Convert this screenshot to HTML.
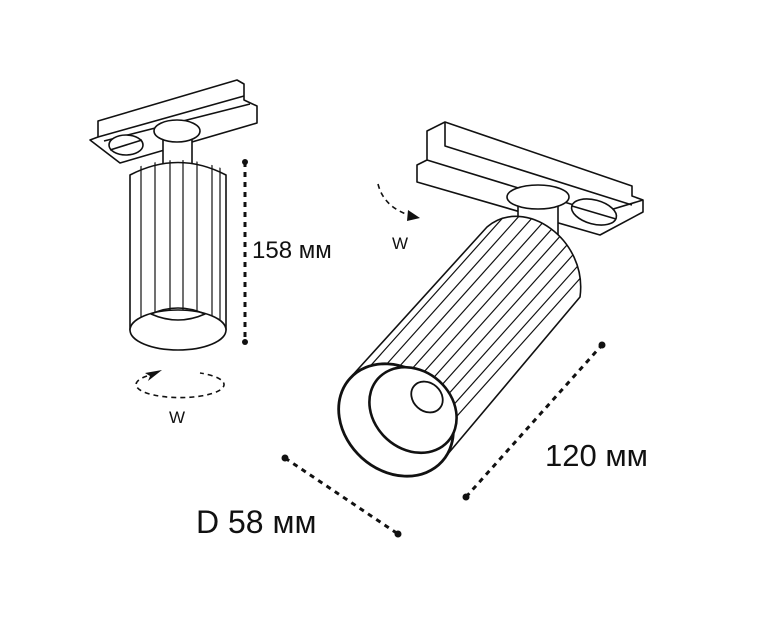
<!DOCTYPE html>
<html><head><meta charset="utf-8"><style>
html,body{margin:0;padding:0;background:#fff}
svg{display:block}
text{font-family:"Liberation Sans","DejaVu Sans",sans-serif;fill:#111}
</style></head><body>
<svg width="768" height="620" viewBox="0 0 768 620" xmlns="http://www.w3.org/2000/svg">
<defs>
<clipPath id="bodyclip"><path d="M350,378 L487,227 C525,195 588,240 580,297 L447,455 Z"/></clipPath>
<clipPath id="lclip"><path d="M130,170 Q178,150 226,170 L226,330 L130,330 Z"/></clipPath>
</defs>
<g fill="#fff" stroke="#111" stroke-width="1.6" stroke-linejoin="round">
<!-- left track adapter -->
<polygon points="98,121 237,80 244,84 244,100 257,106 257,123 120,163 90,140 98,137"/>
<polyline fill="none" points="98,137 244,96"/>
<polyline fill="none" points="104,141 250,104"/>
<ellipse cx="126" cy="145" rx="17" ry="10"/>
<line x1="110" y1="150" x2="142" y2="140"/>
<!-- left body -->
<rect x="163" y="134" width="29" height="32"/>
<ellipse cx="177" cy="131" rx="23" ry="11"/>
<path d="M130,175 Q178,150 226,175 L226,330 L130,330 Z"/>
<g clip-path="url(#lclip)" fill="none" stroke-width="1.2">
<line x1="141" y1="150" x2="141" y2="330"/><line x1="155" y1="150" x2="155" y2="330"/>
<line x1="170" y1="150" x2="170" y2="330"/><line x1="183" y1="150" x2="183" y2="330"/>
<line x1="197" y1="150" x2="197" y2="330"/><line x1="212" y1="150" x2="212" y2="330"/>
<line x1="220" y1="150" x2="220" y2="330"/>
</g>
<ellipse cx="178" cy="330" rx="48" ry="20"/>
<path d="M151,314 Q178,302 205,314 Q178,326 151,314 Z" fill="none"/>

<!-- right track adapter -->
<polygon points="445,122 632,186 632,196 643,200 643,212 600,235 417,182 417,165 427,160 427,131"/>
<polyline fill="none" points="427,160 600,213 643,200"/>
<polyline fill="none" points="445,122 445,146 632,205"/>
<ellipse cx="594" cy="212" rx="23" ry="12" transform="rotate(15 594 212)"/>
<line x1="572" y1="206" x2="616" y2="219"/>
<rect x="518" y="195" width="40" height="55"/>
<ellipse cx="538" cy="197" rx="31" ry="12"/>
<!-- right body -->
<path d="M350,378 L487,227 C525,195 588,240 580,297 L447,455 Z"/>
<g clip-path="url(#bodyclip)" fill="none" stroke-width="1.2">
<g transform="rotate(41.8)">
<line x1="520" y1="-260" x2="520" y2="80"/><line x1="531" y1="-260" x2="531" y2="80"/>
<line x1="542" y1="-260" x2="542" y2="80"/><line x1="553" y1="-260" x2="553" y2="80"/>
<line x1="564" y1="-260" x2="564" y2="80"/><line x1="575" y1="-260" x2="575" y2="80"/>
<line x1="586" y1="-260" x2="586" y2="80"/><line x1="597" y1="-260" x2="597" y2="80"/>
<line x1="608" y1="-260" x2="608" y2="80"/><line x1="618" y1="-260" x2="618" y2="80"/>
</g></g>
<ellipse cx="396" cy="420" rx="62" ry="51" transform="rotate(42 396 420)" stroke-width="2.8"/>
<ellipse cx="413" cy="410" rx="47" ry="39" transform="rotate(42 413 410)" stroke-width="2.6"/>
<ellipse cx="427" cy="397" rx="17" ry="14" transform="rotate(42 427 397)" stroke-width="1.8"/>
</g>

<!-- dimension lines -->
<g stroke="#111" stroke-width="3" stroke-dasharray="5,5" fill="none">
<line x1="245" y1="162" x2="245" y2="342"/>
<line x1="466" y1="497" x2="602" y2="345"/>
<line x1="285" y1="458" x2="398" y2="534"/>
</g>
<g fill="#111">
<circle cx="245" cy="162" r="3"/><circle cx="245" cy="342" r="3"/>
<circle cx="466" cy="497" r="3.5"/><circle cx="602" cy="345" r="3.5"/>
<circle cx="285" cy="458" r="3.5"/><circle cx="398" cy="534" r="3.5"/>
</g>
<!-- rotation arrows -->
<g stroke="#111" stroke-width="1.6" stroke-dasharray="5,4" fill="none">
<path d="M147,376 A44,13 0 1 0 200,373"/>
<path d="M378,184 Q384,208 412,216"/>
</g>
<polygon points="162,370 145,373 150,376 148,381" fill="#111"/>
<polygon points="408,210 420,218 407,221" fill="#111"/>

<text x="252" y="258" font-size="24">158 мм</text>
<text x="169" y="423" font-size="17">W</text>
<text x="392" y="249" font-size="17">W</text>
<text x="545" y="466" font-size="31">120 мм</text>
<text x="196" y="533" font-size="32">D 58 мм</text>
</svg>
</body></html>
